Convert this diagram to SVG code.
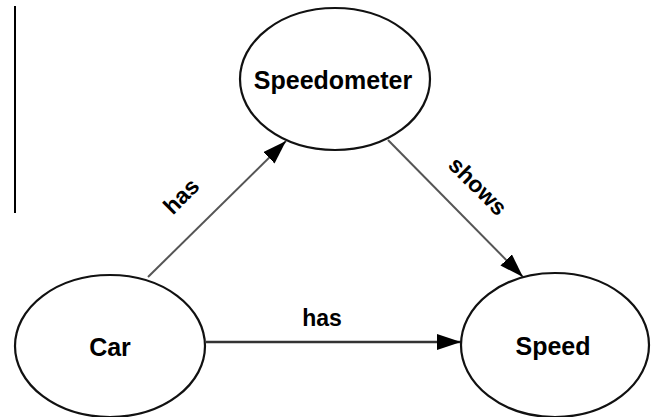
<svg xmlns="http://www.w3.org/2000/svg" width="658" height="417" viewBox="0 0 658 417">
  <style>
    .node ellipse { fill: #ffffff; stroke: #111111; stroke-width: 2.2; }
    .node text { font-family: "Liberation Sans", Arial, sans-serif; font-weight: bold; font-size: 25px; fill: #000000; text-anchor: middle; dominant-baseline: central; }
    .edge { stroke: #555555; stroke-width: 2; fill: none; marker-end: url(#arrow); }
    .edge.dark { stroke: #333333; stroke-width: 2.4; }
    .label { font-family: "Liberation Sans", Arial, sans-serif; font-weight: bold; font-size: 23px; fill: #000000; text-anchor: middle; dominant-baseline: central; }
  </style>
  <defs>
    <marker id="arrow" markerUnits="userSpaceOnUse" markerWidth="24" markerHeight="18" refX="24" refY="8" orient="auto">
      <path d="M0,0 L24,8 L0,16 z" fill="#000000"/>
    </marker>
  </defs>
  <rect width="658" height="417" fill="#ffffff"/>
  <line x1="15" y1="6" x2="15" y2="213" stroke="#000000" stroke-width="2"/>

  <g id="connectors">
    <line class="edge" x1="148" y1="277" x2="286" y2="141"/>
    <line class="edge" x1="388" y1="140" x2="523" y2="277"/>
    <line class="edge dark" x1="206" y1="342" x2="461" y2="342"/>
    <text class="label" transform="translate(181,196) rotate(-45)">has</text>
    <text class="label" transform="translate(478,186) rotate(45)">shows</text>
    <text class="label" x="322" y="318">has</text>
  </g>

  <g id="speedometer" class="node">
    <ellipse cx="335" cy="79" rx="95" ry="71"/>
    <text x="333" y="80">Speedometer</text>
  </g>
  <g id="car" class="node">
    <ellipse cx="110" cy="346" rx="95" ry="71"/>
    <text x="110" y="347">Car</text>
  </g>
  <g id="speed" class="node">
    <ellipse cx="555" cy="345" rx="94" ry="72"/>
    <text x="553" y="346">Speed</text>
  </g>
</svg>
